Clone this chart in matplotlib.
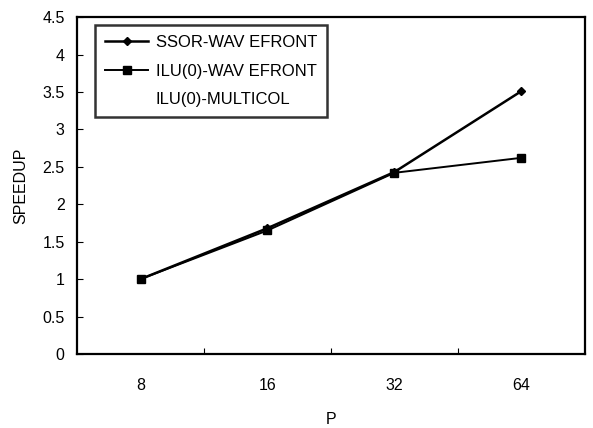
import matplotlib
matplotlib.use("Agg")
import matplotlib.pyplot as plt
from matplotlib.lines import Line2D

categories = ["8", "16", "32", "64"]
ssor_wavefront = [1.0, 1.68, 2.43, 3.51]
ilu_wavefront = [1.0, 1.65, 2.42, 2.62]
y_ticks = [0, 0.5, 1, 1.5, 2, 2.5, 3, 3.5, 4, 4.5]
y_tick_labels = ["0", "0.5", "1", "1.5", "2", "2.5", "3", "3.5", "4", "4.5"]

plt.rcParams['font.family'] = ['Liberation Sans', 'DejaVu Sans']

fig = plt.figure(figsize=(5.93, 4.28), dpi=100)
ax = fig.add_axes([0.130, 0.173, 0.856, 0.787])

x = list(range(len(categories)))
ax.plot(x, ssor_wavefront, color='black', lw=1.8, marker='D', ms=4.5,
        label='SSOR-WAV EFRONT')
ax.plot(x, ilu_wavefront, color='black', lw=1.4, marker='s', ms=5.5,
        label='ILU(0)-WAV EFRONT')

ax.set_xlim(-0.5, len(categories) - 0.5)
ax.set_ylim(0, 4.5)
ax.set_yticks(y_ticks)
ax.set_yticklabels(y_tick_labels)
ax.set_xticks(x)
ax.set_xticklabels(categories)
ax.set_xticks([i + 0.5 for i in x[:-1]], minor=True)
ax.tick_params(axis='x', which='major', length=0, pad=17, labelsize=11.5)
ax.tick_params(axis='x', which='minor', direction='in', length=4, width=0.8)
ax.tick_params(axis='y', direction='in', length=4, width=0.8, pad=9, labelsize=11.5)

for s in ax.spines.values():
    s.set_linewidth(1.6)
    s.set_color('black')

ax.set_xlabel('P', fontsize=11.5, labelpad=14)
ax.set_ylabel('SPEEDUP', fontsize=11.5, labelpad=10)

handles, labels = ax.get_legend_handles_labels()
handles.append(Line2D([], [], color='none'))
labels.append('ILU(0)-MULTICOL')
leg = ax.legend(handles, labels, loc='upper left', bbox_to_anchor=(0.035, 0.976),
                borderaxespad=0,
                frameon=True, fancybox=False, edgecolor='black', fontsize=12,
                handlelength=2.6, handletextpad=0.45, labelspacing=0.8,
                borderpad=0.6)
leg.get_frame().set_linewidth(1.8)

fig.savefig("out.png", dpi=100, facecolor='white')
